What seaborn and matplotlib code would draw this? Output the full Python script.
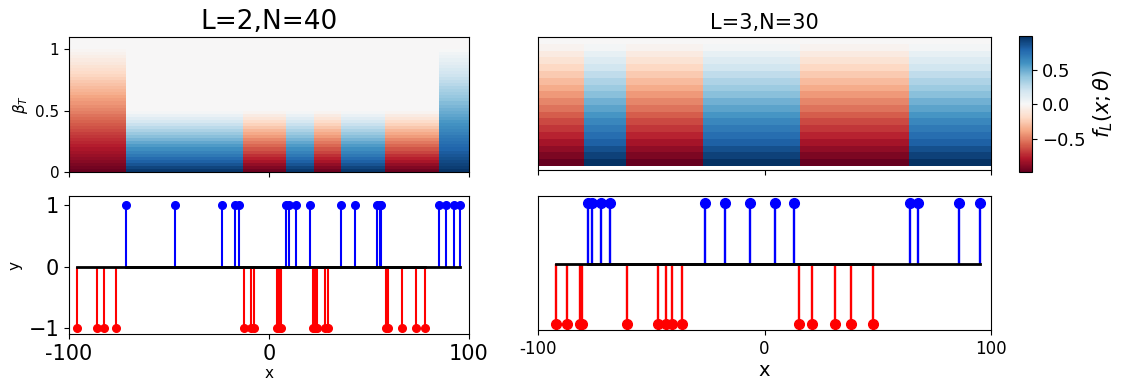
import numpy as np
import matplotlib
matplotlib.use("Agg")
import matplotlib.pyplot as plt
import seaborn as sns

# samples (x, label) for the two runs
x_left = [-96.0, -86.0, -82.4, -76.4, -71.5, -47.1, -23.5, -16.8, -15.1, -12.5,
          -8.8, -7.5, 3.8, 5.2, 5.8, 8.5, 9.8, 13.5, 20.5, 22.1,
          23.1, 23.8, 28.1, 29.5, 36.1, 42.9, 54.2, 55.4, 56.2, 58.4,
          59.7, 66.4, 73.7, 78.2, 85.0, 88.7, 92.3, 95.7]
y_left = [-1, -1, -1, -1, 1, 1, 1, 1, 1, -1,
          -1, -1, -1, -1, -1, 1, 1, 1, 1, -1,
          -1, -1, -1, -1, 1, 1, 1, 1, 1, -1,
          -1, -1, -1, -1, 1, 1, 1, 1]

x_right = [-92.1, -87.2, -81.4, -80.5, -78.1, -76.0, -72.3, -68.3, -60.7, -47.1,
           -43.6, -40.8, -36.5, -26.4, -17.3, -6.4, 4.5, 13.2, 15.2, 20.9,
           31.3, 38.3, 47.8, 64.1, 67.6, 85.8, 95.3]
y_right = [-1, -1, -1, -1, 1, 1, 1, 1, -1, -1,
           -1, -1, -1, 1, 1, 1, 1, 1, -1, -1,
           -1, -1, -1, 1, 1, 1, 1]

# f_L bands along x: edges, sign of the band, which beta profile it follows
edges_left = [-100, -71.5, -13, 8.5, 22.5, 36, 58, 85, 100]
signs_left = [-1, 1, -1, 1, -1, 1, -1, 1]
kind_left = ["full", "half", "half", "half", "half", "half", "half", "full"]

edges_right = [-100, -79.6, -61.1, -27.1, 15.3, 63.9, 100]
signs_right = [-1, 1, -1, 1, -1, 1]

# |f_L| against beta_T rows (bottom row first), left: 44 rows of 0.025 up to 1.1
prof_full = [0.968, 0.943, 0.919, 0.894, 0.870, 0.845, 0.821, 0.796, 0.772, 0.747,
             0.723, 0.698, 0.674, 0.649, 0.625, 0.600, 0.576, 0.551, 0.527, 0.502,
             0.478, 0.453, 0.429, 0.404, 0.380, 0.355, 0.331, 0.306, 0.282, 0.257,
             0.233, 0.208, 0.184, 0.159, 0.135, 0.110, 0.086, 0.061, 0.037, 0.012,
             0.0, 0.0, 0.0, 0.0]
prof_half = [0.956, 0.907, 0.858, 0.809, 0.760, 0.711, 0.662, 0.613, 0.564, 0.515,
             0.466, 0.417, 0.368, 0.319, 0.270, 0.221, 0.172, 0.123, 0.074, 0.025,
             0.0, 0.0, 0.0, 0.0, 0.0, 0.0, 0.0, 0.0, 0.0, 0.0,
             0.0, 0.0, 0.0, 0.0, 0.0, 0.0, 0.0, 0.0, 0.0, 0.0,
             0.0, 0.0, 0.0, 0.0]
# right: 19 rows from beta 0 to 1
prof_right = [0.98, 0.924, 0.868, 0.812, 0.756, 0.70, 0.644, 0.588, 0.532, 0.476,
              0.42, 0.364, 0.308, 0.252, 0.196, 0.14, 0.084, 0.028, 0.0]

xc = np.arange(-99.75, 100, 0.5)


def band_grid(edges, signs, profiles):
    grid = np.zeros((len(profiles[0]), len(xc)))
    for i, s in enumerate(signs):
        m = (xc >= edges[i]) & (xc < edges[i + 1])
        grid[:, m] = s * np.array(profiles[i])[:, None]
    return grid


profs = {"full": prof_full, "half": prof_half}
grid_left = band_grid(edges_left, signs_left, [profs[k] for k in kind_left])
grid_right = band_grid(edges_right, signs_right, [prof_right] * len(signs_right))

W, H = 1122, 383
fig = plt.figure(figsize=(W / 100, H / 100), dpi=100)


def box(x0, x1, y0, y1):
    return [x0 / W, 1 - y1 / H, (x1 - x0) / W, (y1 - y0) / H]


ax1 = fig.add_axes(box(69, 469, 37, 172))
ax2 = fig.add_axes(box(538, 991, 37, 170))
cax = fig.add_axes(box(1019, 1032, 36, 172))
ax3 = fig.add_axes(box(69, 469, 196, 334))
ax4 = fig.add_axes(box(538, 991, 196, 330))

vmin, vmax = -0.98, 0.99

sns.heatmap(grid_left, ax=ax1, cmap="RdBu", vmin=vmin, vmax=vmax, cbar=False,
            xticklabels=False, yticklabels=False)
ax1.set_ylim(0, grid_left.shape[0])
ax1.set_yticks([0, 20, 40])
ax1.set_yticklabels(["0", "0.5", "1"], fontsize=11)
ax1.set_xticks([0, 200, 400])
ax1.set_xticklabels([])
ax1.set_ylabel(r"$\beta_T$", fontsize=11)
ax1.set_title("L=2,N=40", fontsize=19)

sns.heatmap(grid_right, ax=ax2, cmap="RdBu", vmin=vmin, vmax=vmax, cbar_ax=cax,
            cbar_kws={"ticks": [-0.5, 0, 0.5]}, xticklabels=False, yticklabels=False)
ax2.set_ylim(-0.6, grid_right.shape[0])
ax2.set_yticks([])
ax2.set_xticks([0, 200, 400])
ax2.set_xticklabels([])
ax2.set_title("L=3,N=30", fontsize=15)

for ax in (ax1, ax2):
    ax.tick_params(bottom=True, left=True)
    for sp in ax.spines.values():
        sp.set_visible(True)
        sp.set_linewidth(0.8)

cb = ax2.collections[0].colorbar
cb.outline.set_visible(True)
cb.outline.set_linewidth(0.8)
cb.ax.tick_params(labelsize=13)
cb.set_label(r"$f_L(x;\theta)$", fontsize=15)


def stems(ax, xs, ys, ms, lw):
    xs, ys = np.array(xs), np.array(ys)
    for lab, col in ((1, "b"), (-1, "r")):
        sel = ys == lab
        ml, sl, bl = ax.stem(xs[sel], ys[sel], linefmt=col + "-", markerfmt=col + "o",
                             basefmt="k-")
        ml.set_markersize(ms)
        sl.set_linewidth(lw)
        bl.set_linewidth(2)


stems(ax3, x_left, y_left, 5.5, 1.5)
ax3.set_xlim(-100, 100)
ax3.set_ylim(-1.1, 1.15)
ax3.set_yticks([-1, 0, 1])
ax3.set_xticks([-100, 0, 100])
ax3.set_xticklabels(["-100", "0", "100"])
ax3.tick_params(labelsize=15)
ax3.set_xlabel("x", fontsize=11, labelpad=2)
ax3.set_ylabel("y", fontsize=11)

stems(ax4, x_right, y_right, 7, 1.7)
ax4.set_xlim(-100, 100)
ax4.set_ylim(-1.1, 1.12)
ax4.set_yticks([])
ax4.set_xticks([-100, 0, 100])
ax4.set_xticklabels(["-100", "0", "100"])
ax4.tick_params(labelsize=12)
ax4.set_xlabel("x", fontsize=14, labelpad=2)

fig.savefig("out.png", dpi=100)
